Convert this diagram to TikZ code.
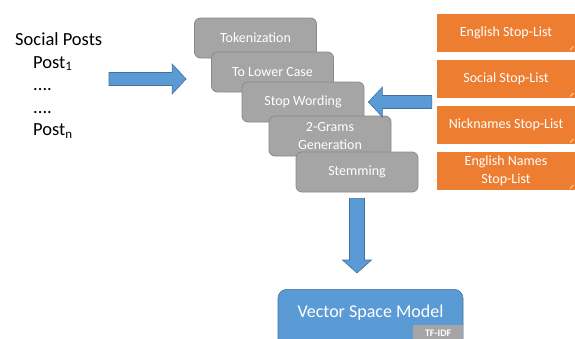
\documentclass[tikz,border=0pt]{standalone}
\usepackage{fontspec}
\setmainfont{Carlito}
\usetikzlibrary{calc}
\definecolor{boxgray}{HTML}{A5A5A5}
\definecolor{edgegray}{HTML}{8A8A8A}
\definecolor{listorange}{HTML}{ED7D31}
\definecolor{flowblue}{HTML}{5B9BD5}
\definecolor{edgeblue}{HTML}{41719C}
\tikzset{stepbox/.style={rectangle,rounded corners=6pt,draw=edgegray,line width=0.8pt,fill=boxgray,text=white,minimum width=122pt,minimum height=40pt,align=center,font=\fontsize{14}{18}\selectfont}}
\tikzset{listbox/.style={rectangle,fill=listorange,text=white,minimum width=138pt,minimum height=38pt,align=center,font=\fontsize{14}{18}\selectfont,
  path picture={\draw[white,line width=0.5pt] ([shift={(-5pt,1.5pt)}]path picture bounding box.south east) -- ([shift={(-1.5pt,5pt)}]path picture bounding box.south east);}}}
\tikzset{harrow/.style={fill=flowblue,draw=edgeblue,line width=0.6pt,
  to path={let \p1=(\tikztostart),\p2=(\tikztotarget),\n1={(\x2>\x1)?1:-1} in
    (\x1,{\y1+6.5pt}) -- ({\x2-\n1*14pt},{\y1+6.5pt}) -- ({\x2-\n1*14pt},{\y1+15pt}) -- (\x2,\y1)
    -- ({\x2-\n1*14pt},{\y1-15pt}) -- ({\x2-\n1*14pt},{\y1-6.5pt}) -- (\x1,{\y1-6.5pt}) -- cycle}}}
\tikzset{varrow/.style={fill=flowblue,draw=edgeblue,line width=0.6pt,
  to path={let \p1=(\tikztostart),\p2=(\tikztotarget),\n1={(\y2>\y1)?1:-1} in
    ({\x1-7.5pt},\y1) -- ({\x1-7.5pt},{\y2-\n1*13pt}) -- ({\x1-14.5pt},{\y2-\n1*13pt}) -- (\x1,\y2)
    -- ({\x1+14.5pt},{\y2-\n1*13pt}) -- ({\x1+7.5pt},{\y2-\n1*13pt}) -- ({\x1+7.5pt},\y1) -- cycle}}}
\tikzset{vsmbox/.style={rectangle,rounded corners=9pt,draw=edgeblue,line width=0.6pt,fill=flowblue,text=white,minimum width=185pt,minimum height=60pt,text height=13pt,text depth=17pt,font=\fontsize{18}{20}\selectfont}}
\tikzset{tagbox/.style={rectangle,fill=boxgray,text=white,minimum width=50pt,minimum height=16pt,inner sep=1pt,font=\fontsize{10}{11}\selectfont\bfseries}}

\begin{document}
\begin{tikzpicture}[x=1pt,y=-1pt]
    \useasboundingbox (0,0) rectangle (575,338);
    \clip (0,0) rectangle (575,338);

    \node[anchor=north west,align=left,inner sep=0,font=\fontsize{18.5}{22.5}\selectfont] (posts) at (15,32.5)
      {Social Posts\\\hspace*{18pt}Post\textsubscript{1}\\\hspace*{18pt}....\\\hspace*{18pt}....\\\hspace*{18pt}Post\textsubscript{n}};

    \node[stepbox] (tok) at (255.5,38) {Tokenization};
    \node[stepbox] (low) at (272.5,72) {To Lower Case};
    \node[stepbox] (stop) at (303,102) {Stop Wording};
    \node[stepbox] (gram) at (330,136) {2-Grams\\Generation};
    \node[stepbox] (stem) at (357,172) {Stemming};

    \node[listbox] (eng) at (506,32.5) {English Stop-List};
    \node[listbox] (soc) at (506,79) {Social Stop-List};
    \node[listbox] (nick) at (506,125) {Nicknames Stop-List};
    \node[listbox] (names) at (506,171) {English Names\\Stop-List};

    \node[vsmbox,anchor=north] (vsm) at (370.5,289) {Vector Space Model};
    \node[tagbox,anchor=north east] (tfidf) at ([yshift=-36pt]vsm.north east) {TF-IDF};

    \coordinate (feedin) at (109,79);
    \coordinate (feedout) at ([xshift=-8pt]tok.west |- feedin);
    \coordinate (stopin) at ([xshift=4pt]stop.east);
    \coordinate (listout) at ([xshift=-5pt]soc.west |- stopin);
    \coordinate (stemout) at ([yshift=-6pt]stem.south);
    \coordinate (vsmin) at ([yshift=16pt]vsm.north -| stemout);

    \path[harrow] (feedin) to (feedout);
    \path[harrow] (listout) to (stopin);
    \path[varrow] (stemout) to (vsmin);
\end{tikzpicture}
\end{document}
